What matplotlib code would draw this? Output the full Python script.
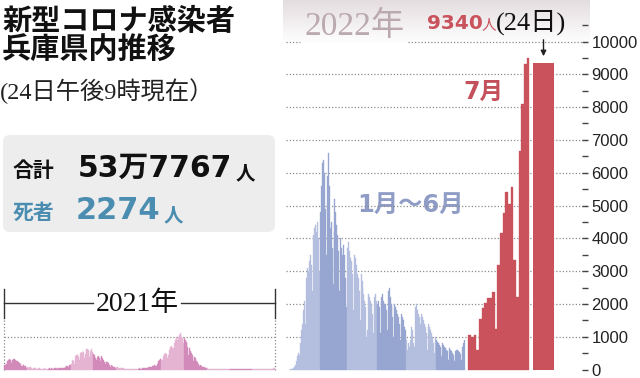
import numpy as np
import matplotlib
matplotlib.use("Agg")
import matplotlib.pyplot as plt
from matplotlib.patches import FancyBboxPatch
from matplotlib.ticker import FixedLocator

plt.rcParams["font.family"] = ["DejaVu Sans", "Noto Sans CJK JP"]

# ---- daily new cases, Hyogo ----
cases_2021_jan = [150, 160, 130, 180, 250, 270, 300, 320, 290, 250, 200, 290, 320, 300, 310,
                  300, 260, 200, 250, 230, 200, 190, 170, 120, 110, 160, 140, 120, 110, 90, 60]
cases_2021_feb = [80, 50, 90, 80, 70, 60, 40, 30, 50, 50, 40, 40, 30, 20, 30, 40, 40, 30, 30, 30,
                  20, 20, 30, 40, 30, 30, 20, 20]
cases_2021_mar = [20, 40, 40, 30, 40, 40, 30, 20, 40, 40, 50, 40, 40, 20, 50, 50, 40, 40, 50, 50,
                  40, 50, 60, 70, 90, 100, 110, 80, 90, 130, 150]
cases_2021_apr = [180, 240, 300, 260, 170, 300, 400, 430, 450, 470, 380, 300, 450, 500, 540, 510,
                  580, 540, 350, 470, 600, 620, 630, 580, 450, 380, 560, 620, 500, 520]
cases_2021_may = [480, 450, 380, 350, 280, 380, 400, 420, 350, 250, 380, 400, 350, 300, 300, 230,
                  180, 250, 240, 230, 200, 160, 130, 90, 130, 120, 110, 90, 80, 50, 40]
cases_2021_jun = [70, 80, 60, 60, 50, 40, 30, 40, 50, 40, 40, 30, 30, 20, 30, 30, 30, 30, 20, 20,
                  15, 25, 30, 30, 30, 25, 20, 20, 30, 30]
cases_2021_jul = [30, 35, 30, 25, 20, 35, 40, 40, 45, 50, 40, 30, 60, 70, 80, 90, 90, 70, 60, 100,
                  120, 140, 130, 100, 110, 180, 220, 260, 300, 330, 340]
cases_2021_aug = [280, 300, 420, 450, 480, 500, 480, 420, 350, 450, 600, 650, 700, 720, 650, 500,
                  650, 800, 900, 950, 1000, 900, 750, 1000, 1050, 1100, 1050, 1000, 950, 800, 950]
cases_2021_sep = [950, 900, 850, 800, 700, 450, 650, 600, 550, 500, 450, 350, 250, 380, 350, 300,
                  260, 220, 160, 130, 100, 130, 120, 110, 90, 70, 50, 70, 60, 50]
cases_2021_oct = [40, 35, 30, 20, 30, 30, 25, 20, 15, 12, 10, 15, 15, 12, 10, 10, 8, 6, 8, 8, 6,
                  5, 5, 4, 3, 5, 5, 4, 3, 3, 2]
cases_2021_nov = [5, 4, 3, 6, 5, 4, 3, 2, 4, 5, 4, 3, 3, 2, 2, 4, 3, 5, 4, 3, 2, 2, 4, 3, 4, 3,
                  2, 3, 4, 3]
cases_2021_dec = [4, 5, 3, 3, 4, 5, 4, 3, 3, 4, 3, 3, 5, 6, 5, 4, 7, 8, 6, 10, 12, 10, 9, 15, 20,
                  15, 12, 25, 35, 40, 45]

cases_2022_jan = [10, 15, 20, 40, 80, 150, 250, 400, 500, 450, 800, 1200, 1400, 1800, 2100, 2000,
                  1400, 2800, 3100, 3000, 3300, 3500, 3200, 2400, 4100, 4300, 4400, 4200, 4500,
                  4000, 3000]
cases_2022_feb = [4800, 5600, 6300, 6400, 6000, 4900, 3500, 5900, 6600, 5600, 4300, 4500, 3700,
                  2600, 4200, 5200, 4800, 4400, 4100, 3600, 2400, 4000, 3700, 3500, 3800, 3500,
                  2800, 1900]
cases_2022_mar = [3700, 3900, 3600, 3400, 3300, 2900, 1800, 3500, 3400, 3200, 2900, 2800, 2400,
                  1500, 2900, 2700, 2500, 2300, 2100, 1900, 1000, 1200, 2300, 2200, 2100, 2000,
                  1700, 1100, 2200, 2300, 2100]
cases_2022_apr = [2000, 2100, 1900, 1100, 2200, 2300, 2100, 2000, 2000, 1800, 1200, 2400, 2500,
                  2200, 2000, 1900, 1600, 1000, 2000, 1900, 1800, 1700, 1600, 1400, 900, 1700,
                  1600, 1500, 1300, 1200]
cases_2022_may = [900, 600, 800, 700, 900, 1300, 1200, 800, 700, 1900, 2000, 1800, 1700, 1600,
                  1400, 800, 1700, 1600, 1500, 1400, 1300, 1100, 600, 1400, 1300, 1200, 1100,
                  1000, 800, 500, 1000]
cases_2022_jun = [900, 850, 800, 750, 700, 400, 800, 750, 700, 650, 600, 550, 300, 650, 600, 580,
                  560, 500, 450, 250, 550, 600, 580, 550, 520, 480, 300, 700, 800, 900]
cases_2022_jul = [1060, 1000, 1060, 600, 1550, 1870, 2030, 2170, 2180, 2370, 1250, 3180, 4150,
                  4760, 5420, 5060, 5570, 3330, 2200, 6650, 8100, 9300, 9500]
latest_value = 9340  # 7/24

y_ticks = [0, 1000, 2000, 3000, 4000, 5000, 6000, 7000, 8000, 9000, 10000]
y_minor = [500, 1500, 2500, 3500, 4500, 5500, 6500, 7500, 8500, 9500, 10500]

months_2021 = [cases_2021_jan, cases_2021_feb, cases_2021_mar, cases_2021_apr, cases_2021_may,
               cases_2021_jun, cases_2021_jul, cases_2021_aug, cases_2021_sep, cases_2021_oct,
               cases_2021_nov, cases_2021_dec]
months_2022 = [cases_2022_jan, cases_2022_feb, cases_2022_mar, cases_2022_apr, cases_2022_may,
               cases_2022_jun]

# ---- colours ----
RED = "#c9525c"
BLUE = ["#b4bedf", "#97a6d0"]
PINK = ["#d18ab9", "#e5b4d2"]
GRID = "#8c8c8c"
SERIF = ["Liberation Serif", "Noto Sans CJK JP"]
CJK = ["Noto Sans CJK JP"]

# ---- geometry (pixel layout of the newspaper graphic) ----
W, H = 640, 378
BASE_PX = 369.5      # y pixel of zero
PX_PER_CASE = 0.0328
AX_RIGHT = 588

fig = plt.figure(figsize=(W / 100, H / 100), dpi=100)

# overlay for text / decoration (pixel coords), drawn below the bars
ov = fig.add_axes([0, 0, 1, 1])
ov.set_zorder(0)
ov.axis("off")

ax = fig.add_axes([0, 0, AX_RIGHT / W, 1])
ax.set_zorder(1)
ax.patch.set_alpha(0)
ax.set_xlim(0, AX_RIGHT)
ax.set_ylim((BASE_PX - H) / PX_PER_CASE, BASE_PX / PX_PER_CASE)
for s in ax.spines.values():
    s.set_visible(False)
ax.set_xticks([])
ax.yaxis.tick_right()
ax.set_yticks(y_ticks)
ax.set_yticklabels([str(t) for t in y_ticks])
ax.yaxis.set_minor_locator(FixedLocator(y_minor))
ax.tick_params(axis="y", which="both", direction="in", length=4.5, width=1.0,
               color="#444444", pad=2.5)
ax.tick_params(axis="y", which="major", labelsize=12, labelcolor="#222222")
for lab in ax.get_yticklabels():
    lab.set_fontfamily(["Liberation Sans", "DejaVu Sans"])

# gridlines (2022 part)
grid_kw = dict(color=GRID, linewidth=0.9, linestyle=(0, (1, 1.6)), zorder=0)
for v in y_ticks[1:-1]:
    ax.hlines(v, 286, AX_RIGHT, **grid_kw)
ax.hlines(y_ticks[-1], 286, 300, **grid_kw)
ax.hlines(y_ticks[-1], 408, AX_RIGHT, **grid_kw)

# 2021 frame
ax.hlines(1000, 4, 275, **grid_kw)
ax.vlines([4, 275], 0, (BASE_PX - 320) / PX_PER_CASE, **grid_kw)


def draw_months(months, x0, w, colors):
    offset = 0
    for i, vals in enumerate(months):
        xs = x0 + (offset + np.arange(len(vals))) * w
        c = colors[i % 2]
        ax.bar(xs, vals, width=w, align="edge", color=c, edgecolor=c,
               linewidth=0.25, zorder=2)
        offset += len(vals)


draw_months(months_2021, 4.0, 271 / 365, PINK)
draw_months(months_2022, 290.0, 175 / 181, BLUE)

jul_x0, jul_w = 468.3, 61.0 / 23
xs_jul = jul_x0 + np.arange(len(cases_2022_jul)) * jul_w
ax.bar(xs_jul, cases_2022_jul, width=jul_w, align="edge", color=RED, edgecolor=RED,
       linewidth=0.25, zorder=2)
ax.bar([533.3], [latest_value], width=20.7, align="edge", color=RED, linewidth=0, zorder=2)

# ---- overlay ----
ov.set_xlim(0, W)
ov.set_ylim(H, 0)

# banner gradient behind "2022年"
top = np.array([0.895, 0.868, 0.878])
t = np.linspace(0, 1, 50)[:, None, None]
grad = top * (1 - t) + np.ones(3) * t
grad = np.repeat(grad, 2, axis=1)
ov.imshow(grad, extent=(283, 590, 44, 0), aspect="auto", zorder=0)
ov.set_xlim(0, W)
ov.set_ylim(H, 0)

# title block
ov.text(2, 21, "新型コロナ感染者", fontsize=21, fontweight="bold", family=CJK,
        va="center", color="#111111")
ov.text(2, 50, "兵庫県内推移", fontsize=21, fontweight="bold", family=CJK,
        va="center", color="#111111")
ov.text(0, 91, "(24日午後9時現在）", fontsize=17.5, family=SERIF, va="center",
        color="#222222")

# totals box
ov.add_patch(FancyBboxPatch((3, 135), 272, 97, boxstyle="round,pad=0,rounding_size=7",
                            fc="#ededed", ec="none", zorder=1))
ov.text(13, 177, "合計", fontsize=15, fontweight="bold", family=CJK, va="baseline",
        color="#111111", zorder=2)
ov.text(78, 177, "53万7767", fontsize=21.5, fontweight="bold", va="baseline",
        color="#111111", zorder=2)
ov.text(236, 179, "人", fontsize=14, fontweight="bold", family=CJK, va="baseline",
        color="#111111", zorder=2)
DEATH = "#4b8db0"
ov.text(13, 219, "死者", fontsize=15, fontweight="bold", family=CJK, va="baseline",
        color=DEATH, zorder=2)
ov.text(76, 219, "2274", fontsize=22, fontweight="bold", va="baseline",
        color=DEATH, zorder=2)
ov.text(164, 221, "人", fontsize=14, fontweight="bold", family=CJK, va="baseline",
        color=DEATH, zorder=2)

# 2021 label
ov.text(137, 304, "2021年", fontsize=20, family=SERIF, ha="center", va="center",
        color="#111111")
line_kw = dict(color="#333333", linewidth=1.0)
ov.plot([4, 93], [303, 303], **line_kw)
ov.plot([181, 275], [303, 303], **line_kw)
ov.plot([4, 4], [289, 318], **line_kw)
ov.plot([275, 275], [289, 318], **line_kw)

# 2022 labels
ov.text(305, 35, "2022年", fontsize=24, family=SERIF, va="baseline", color="#bba9b0")
ov.text(427, 29, "9340", fontsize=14.5, fontweight="bold", va="baseline", color=RED)
ov.text(482, 29, "人", fontsize=10.5, family=CJK, va="baseline", color=RED)
ov.text(496, 30, "(24日)", fontsize=19, family=SERIF, va="baseline", color="#111111")
ov.annotate("", xy=(543.5, 59), xytext=(543.5, 37),
            arrowprops=dict(arrowstyle="-|>", color="#222222", lw=1.0, mutation_scale=8))
ov.text(483, 92, "7月", fontsize=17, fontweight="bold", ha="center", va="center",
        color="#c4505c")
ov.text(410, 205, "1月～6月", fontsize=17.5, fontweight="bold", ha="center", va="center",
        color="#8e9cc6")

fig.savefig("out.png", dpi=100)
